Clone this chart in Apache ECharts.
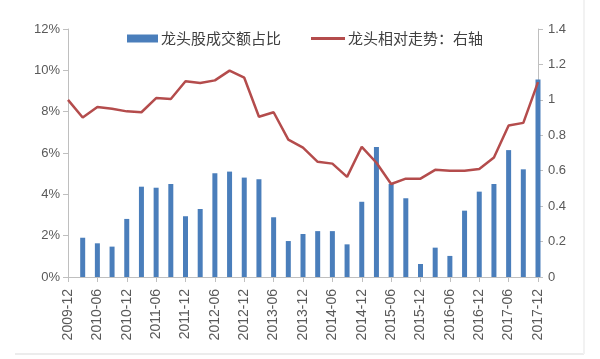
<!DOCTYPE html>
<html>
<head>
<meta charset="utf-8">
<script src="https://cdn.jsdelivr.net/npm/echarts@6/dist/echarts.min.js"></script>
<style>html,body{margin:0;padding:0;background:#fff;}#c{width:600px;height:359px;}</style>
</head>
<body>
<div id="c"></div>
<script>
var categories = ['2009-12','2010-03','2010-06','2010-09','2010-12','2011-03','2011-06','2011-09','2011-12','2012-03','2012-06','2012-09','2012-12','2013-03','2013-06','2013-09','2013-12','2014-03','2014-06','2014-09','2014-12','2015-03','2015-06','2015-09','2015-12','2016-03','2016-06','2016-09','2016-12','2017-03','2017-06','2017-09','2017-12'];
var barShare = [null,1.90,1.63,1.47,2.81,4.37,4.32,4.50,2.94,3.29,5.02,5.10,4.81,4.73,2.89,1.74,2.08,2.22,2.22,1.58,3.64,6.29,4.50,3.81,0.63,1.42,1.02,3.21,4.13,4.50,6.14,5.21,9.56];
var relTrend = [1.00,0.90,0.96,0.95,0.935,0.93,1.01,1.005,1.105,1.095,1.11,1.165,1.125,0.905,0.93,0.775,0.73,0.65,0.64,0.565,0.735,0.645,0.525,0.555,0.555,0.605,0.60,0.60,0.61,0.675,0.855,0.87,1.10];
var leftTicks = {min:0, max:12, interval:2};
var rightTicks = {min:0, max:1.4, interval:0.2};

var chart = echarts.init(document.getElementById('c'), null, {renderer:'canvas'});
var axisColor = '#bfbfbf';
var labelColor = '#595959';
var font = '"Liberation Sans", Arial, sans-serif';
chart.setOption({
  animation:false,
  backgroundColor:'#fff',
  grid:{left:68,right:62,top:29,bottom:82,containLabel:false},
  legend:[
    {data:['龙头股成交额占比'],left:122,top:26,itemWidth:31,itemHeight:8,itemGap:4,icon:'rect',
     textStyle:{fontSize:15,color:'#404040',fontFamily:'"Noto Sans CJK SC", sans-serif',padding:[0,0,0,-2]}},
    {data:['龙头相对走势：右轴'],left:306,top:26,itemWidth:34,itemHeight:3,itemGap:4,icon:'rect',
     textStyle:{fontSize:15,color:'#404040',fontFamily:'"Noto Sans CJK SC", sans-serif',padding:[0,0,0,-2]}}
  ],
  graphic:[
    {type:'line',shape:{x1:15,y1:354,x2:584,y2:354},style:{stroke:'#ececec',lineWidth:2},silent:true},
    {type:'line',shape:{x1:584,y1:0,x2:584,y2:354},style:{stroke:'#f2f2f2',lineWidth:2},silent:true}
  ],
  xAxis:{type:'category',data:categories,boundaryGap:false,
    axisLine:{lineStyle:{color:axisColor,width:1}},
    axisTick:{interval:1,length:5,lineStyle:{color:axisColor}},
    axisLabel:{interval:1,rotate:90,margin:12,fontSize:14,color:labelColor,fontFamily:font},
    splitLine:{show:false}},
  yAxis:[
    {type:'value',min:leftTicks.min,max:leftTicks.max,interval:leftTicks.interval,position:'left',
     axisLine:{show:true,lineStyle:{color:axisColor}},
     axisTick:{show:true,length:5,lineStyle:{color:axisColor}},
     axisLabel:{formatter:'{value}%',fontSize:13,color:labelColor,fontFamily:font,margin:8},
     splitLine:{show:false}},
    {type:'value',min:rightTicks.min,max:rightTicks.max,interval:rightTicks.interval,position:'right',
     axisLine:{show:true,lineStyle:{color:axisColor}},
     axisTick:{show:true,length:5,lineStyle:{color:axisColor}},
     axisLabel:{fontSize:13,color:labelColor,fontFamily:font,margin:10,
       formatter:function(v){return String(Math.round(v*10)/10);}},
     splitLine:{show:false}}
  ],
  series:[
    {name:'龙头股成交额占比',type:'bar',yAxisIndex:0,data:barShare,barWidth:5,
     itemStyle:{color:'#4a7ebb'}},
    {name:'龙头相对走势：右轴',type:'line',yAxisIndex:1,data:relTrend,symbol:'none',
     lineStyle:{color:'#b44c4c',width:2.5},itemStyle:{color:'#b44c4c'},z:3}
  ]
});
</script>
</body>
</html>
